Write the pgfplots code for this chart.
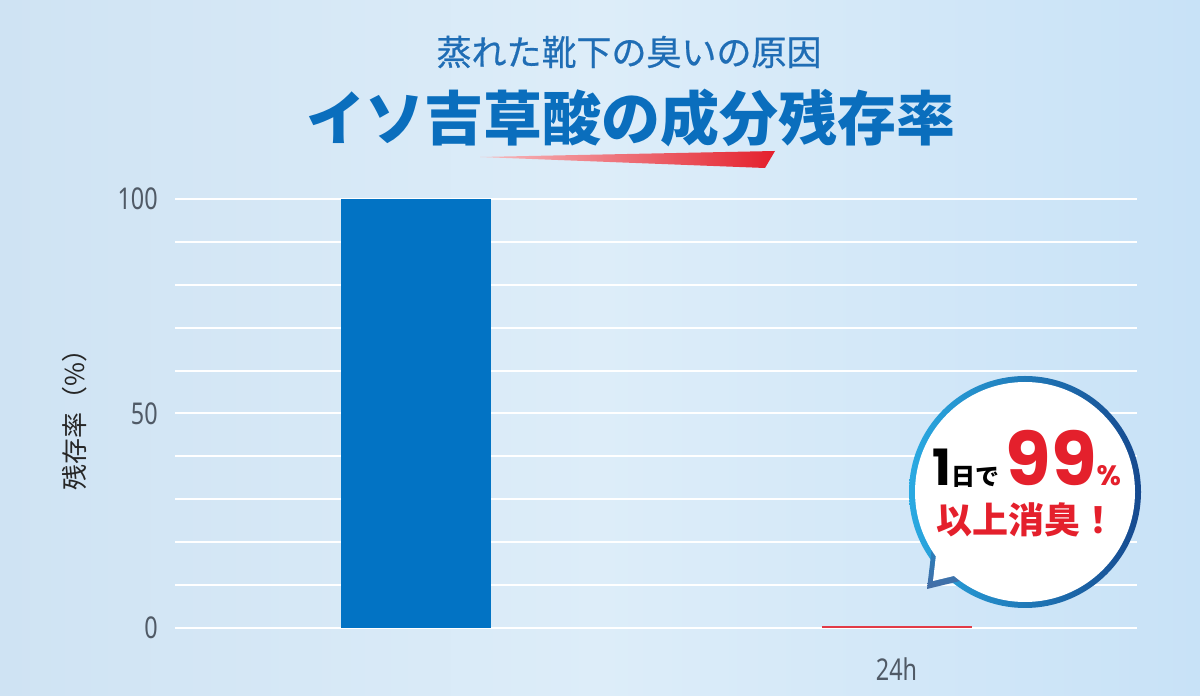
\documentclass[border=0pt]{standalone}
\usepackage{pgfplots}
\pgfplotsset{compat=1.18}
\usepackage{fontspec}
\setmainfont{Noto Sans}
\newfontfamily\cjk{Noto Sans CJK JP}
\newfontfamily\cjkm[FakeBold=0.6]{Noto Sans CJK JP}
\newfontfamily\cond[FakeStretch=0.78]{Noto Sans}
\newfontfamily\pop{Poppins}
\definecolor{bgL}{HTML}{CFE3F3}
\definecolor{bgM}{HTML}{DDEDF9}
\definecolor{bgR}{HTML}{C8E2F7}
\definecolor{barblue}{HTML}{0273C4}
\definecolor{barred}{HTML}{E23B47}
\definecolor{tblue}{HTML}{1F6DB5}
\definecolor{tblue2}{HTML}{0A6EBD}
\definecolor{tickgray}{HTML}{505A66}
\definecolor{redtxt}{HTML}{E4202C}
\definecolor{ringL}{HTML}{2AAAE2}
\definecolor{ringD}{HTML}{16498F}
\begin{document}
\begin{tikzpicture}[x=1pt,y=1pt]
\shade[left color=bgL, right color=bgR, middle color=bgM] (0,0) rectangle (600,348);
\begin{axis}[
  at={(87.5pt,34pt)}, anchor=south west,
  scale only axis, width=481pt, height=214.5pt,
  xmin=-0.5, xmax=1.5, ymin=0, ymax=100,
  axis lines=left, axis line style={draw=none},
  tick style={draw=none},
  ytick={0,10,...,100},
  yticklabels={0,,,,,50,,,,,100},
  xtick={1}, xticklabels={24h},
  ymajorgrids, grid style={white, line width=1pt},
  /pgf/number format/assume math mode=true,
  ticklabel style={font=\cond\fontsize{15}{15}\selectfont, text=tickgray},
  yticklabel style={xshift=-3pt},
  xticklabel style={yshift=-7pt},
  ybar, bar width=75pt,
  clip=false,
]
\addplot[fill=barblue, draw=none, bar shift=0pt] coordinates {(0,100)};
\addplot[fill=barred, draw=none, bar shift=0pt] coordinates {(1,0.5)};
\end{axis}
% titles
\node[text=tblue, font=\cjkm\fontsize{17.5}{17.5}\selectfont] at (314.5,322) {蒸れた靴下の臭いの原因};
\node[text=tblue2, font=\cjk\bfseries\fontsize{29.5}{29.5}\selectfont] at (315.5,289) {イソ吉草酸の成分残存率};
\shade[left color=redtxt!30, right color=redtxt] (240,269.5) -- (387.5,272.5) -- (382.5,264) -- cycle;
% y label
\node[rotate=90, text=black!85, font=\cjk\fontsize{13}{13}\selectfont] at (37.5,141.25) {残存率（\%）};
% bubble
\shade[shading angle=135, left color=ringL, right color=ringD] (512.5,102) circle (58);
\shade[top color=ringL!60!ringD, bottom color=ringD!80] (466.5,79) -- (482,58) -- (463.5,53.5) -- cycle;
\fill[white] (512.5,102) circle (55);
\fill[white] (468.5,75) -- (481,61) -- (466.5,57.5) -- cycle;
\node[anchor=base, inner sep=0pt] at (513.5,105) {{\pop\bfseries\fontsize{25}{25}\selectfont 1}{\cjk\bfseries\fontsize{12}{12}\selectfont 日で}\hspace{3pt}{\color{redtxt}\pop\bfseries\fontsize{37}{37}\selectfont 99}{\color{redtxt}\pop\bfseries\fontsize{14}{14}\selectfont\%}};
\node[text=redtxt, inner sep=0pt, font=\cjk\bfseries\fontsize{18}{18}\selectfont] at (513,88) {以上消臭！};
\end{tikzpicture}
\end{document}
